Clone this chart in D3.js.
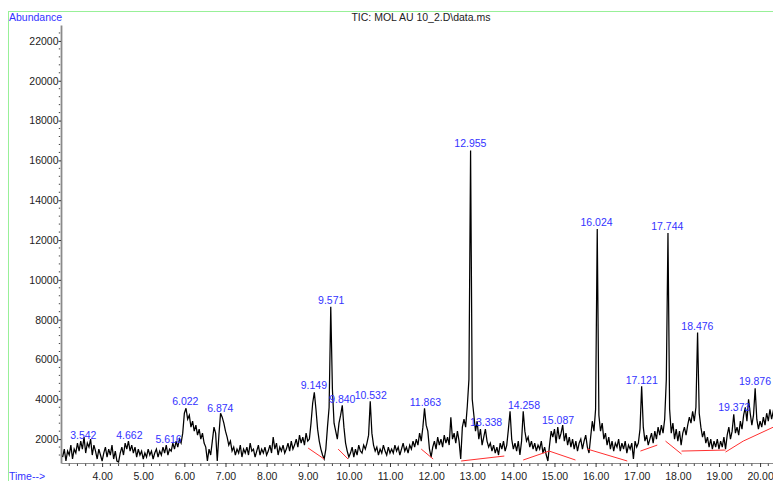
<!DOCTYPE html>
<html>
<head>
<meta charset="utf-8">
<script src="https://cdn.jsdelivr.net/npm/d3@7"></script>
<style>
  body { margin: 0; background: #fff; }
  text { font-family: "Liberation Sans", Arial, sans-serif; }
</style>
</head>
<body>
<div id="chart"></div>
<script>
// scan grid of the TIC trace (minutes)
const scanStart = 3.04, scanStep = 0.04;

// abundance per scan, one row per minute
const abundance = [
  // 3.04 - 4.00
  1100,1500,900,1400,1200,1700,1000,1500,1300,1800,1400,1900,1500,2100,1300,1800,1600,2000,1200,1700,1400,1000,1500,1200,900,
  // 4.04 - 5.00
  1300,1600,1100,1500,1200,1700,1000,1400,900,850,1300,1600,1200,1800,1500,1900,1400,1700,1300,1600,1100,1500,1200,1400,1000,
  // 5.04 - 6.00
  1300,1100,1500,1200,1400,1000,1300,1500,1100,1400,1200,1600,1300,1700,1200,1500,1400,1800,1500,1900,1600,2000,1800,2300,3300,
  // 6.04 - 7.00
  3550,3000,3200,2600,2900,2400,2700,2200,2500,2000,2300,1800,1600,900,1500,1200,1900,2600,2300,900,2200,3300,3100,2800,2400,
  // 7.04 - 8.00
  2100,1700,1900,1400,1600,1200,1500,1300,1700,1100,1500,1300,1600,1200,1800,1400,1500,1100,1400,1700,1200,1500,1300,1600,1200,
  // 8.04 - 9.00
  1400,1700,1300,2100,1500,1800,1200,1600,1400,1700,1300,1500,1800,1400,1900,1500,1700,2000,1600,2200,1800,2100,1700,2300,1900,
  // 9.04 - 10.00
  2000,2800,3800,4350,3500,2500,1900,1500,1200,1000,1500,2600,3600,8650,4500,2800,2400,2000,2800,3200,3700,2600,1800,1400,1100,
  // 10.04 - 11.00
  1300,1600,1100,1500,1200,1700,1400,1300,1700,1500,1800,2200,3900,2300,1700,1400,1600,1200,1500,1300,1700,1400,1200,1600,1300,
  // 11.04 - 12.00
  1500,1300,1700,1400,1600,1200,1500,1800,1400,1600,1300,1700,1500,1900,1600,2000,1700,2300,1900,2600,3550,2700,2400,1500,1100,
  // 12.04 - 13.00
  1600,1900,1500,2100,1700,2000,1600,2200,1800,2100,1700,3100,2000,2300,1800,2400,1900,1000,2600,3000,2600,3650,5000,16500,4000,
  // 13.04 - 14.00
  3200,2400,2900,2000,2500,1700,2100,2500,1900,1600,1800,1400,1700,1300,1600,1200,1800,1500,1900,1400,1700,2500,3400,2000,1500,
  // 14.04 - 15.00
  1800,1400,1900,1200,1900,3400,2400,1900,2100,1600,1900,1500,1800,1400,1700,1500,1900,1300,1600,1200,900,1700,2400,2100,2500,
  // 15.04 - 16.00
  1800,2600,2000,2300,2700,1900,2300,1700,2100,1600,2000,1500,1900,1400,1800,2000,1500,1900,2200,1600,1300,2100,2900,2400,3500,
  // 16.04 - 17.00
  12550,3200,2400,2800,2000,2300,1700,2100,1500,1900,1400,1800,1600,2000,1400,1800,1500,1900,1300,1700,1500,1800,1000,1900,1600,
  // 17.04 - 18.00
  1800,2500,4650,2600,1900,2200,1700,2000,2300,1800,2400,2000,2600,2200,2700,2300,3000,5000,12350,3500,2300,2800,2000,2500,1900,
  // 18.04 - 19.00
  2400,1700,2300,2600,2200,2700,3100,2800,3400,2900,3600,7350,3300,2600,2100,2400,1800,2100,1600,2000,1500,1900,1600,2000,1500,
  // 19.04 - 20.00
  1900,1600,2100,1500,2200,2600,2000,2400,3250,2300,2600,2200,2900,2500,3200,3600,2900,4000,3300,2700,3200,4550,3000,2500,2900,
  // 20.04 - 20.36
  2600,3100,2700,3300,2900,3500,3000,3400,3200
];

// integrated peaks: retention time label and apex abundance
const peakTimes = [3.542, 4.662, 5.616, 6.022, 6.874, 9.149, 9.571, 9.840, 10.532, 11.863,
                   12.955, 13.338, 14.258, 15.087, 16.024, 17.121, 17.744, 18.476, 19.373, 19.876];
const peakApex  = [1860, 1860, 1660, 3570, 3220, 4370, 8640, 3670, 3870, 3520,
                   16530, 2510, 3370, 2610, 12560, 4620, 12360, 7340, 3270, 4570];

// red integration baselines: [t1, a1, t2, a2]
const baselines = [
  [9.01, 1550, 9.40, 1000],
  [9.74, 1500, 9.98, 1000],
  [11.76, 1500, 12.05, 1000],
  [12.73, 900, 13.78, 1150],
  [14.24, 950, 14.87, 1400],
  [14.87, 1400, 15.51, 950],
  [15.80, 1500, 16.77, 900],
  [17.09, 1400, 17.50, 1700],
  [17.70, 1900, 18.09, 1250],
  [18.09, 1400, 19.16, 1450],
  [19.16, 1350, 19.59, 1900],
  [19.59, 1900, 20.32, 2600]
];

const yTicks = [2000, 4000, 6000, 8000, 10000, 12000, 14000, 16000, 18000, 20000, 22000];
const xTicks = [4, 5, 6, 7, 8, 9, 10, 11, 12, 13, 14, 15, 16, 17, 18, 19, 20];

const width = 773, height = 481;
const blue = "#3333ff", axisGrey = "#8a8a8a";

const svg = d3.select("#chart")
    .append("svg")
    .attr("width", width)
    .attr("height", height);

const x = d3.scaleLinear().domain([3, 20.37]).range([61, 775.3]);
const y = d3.scaleLinear().domain([800, 22800]).range([463, 25]);

// green frame
svg.append("line").attr("x1", 8).attr("x2", width).attr("y1", 11.5).attr("y2", 11.5)
    .attr("stroke", "#98f098").attr("stroke-width", 1);
svg.append("line").attr("x1", 8.5).attr("x2", 8.5).attr("y1", 11).attr("y2", height)
    .attr("stroke", "#98f098").attr("stroke-width", 1);

// titles
svg.append("text").attr("x", 9).attr("y", 21).attr("fill", blue)
    .style("font-size", "10.5px").text("Abundance");
svg.append("text").attr("x", 9).attr("y", 480).attr("fill", blue)
    .style("font-size", "10.5px").text("Time-->");
svg.append("text").attr("x", 421).attr("y", 21).attr("fill", "#222")
    .attr("text-anchor", "middle").style("font-size", "10.5px")
    .text("TIC: MOL AU 10_2.D\\data.ms");

// Y axis
const yAxis = svg.append("g")
    .attr("transform", `translate(${x(3)},0)`)
    .call(d3.axisLeft(y).tickValues(yTicks).tickFormat(d3.format("d"))
        .tickSize(2.5).tickPadding(0).tickSizeOuter(0));
yAxis.select(".domain").attr("stroke", axisGrey).attr("stroke-width", 1.8);
yAxis.selectAll(".tick line").attr("stroke", "#333");
yAxis.selectAll("text").style("font-size", "10.5px").attr("fill", "#222");

const yMinor = d3.range(1200, 22800, 400).filter(v => v % 2000 !== 0);
svg.append("g").selectAll("line")
    .data(yMinor)
    .enter()
    .append("line")
    .attr("x1", x(3) - 2.2).attr("x2", x(3) - 0.8)
    .attr("y1", d => y(d)).attr("y2", d => y(d))
    .attr("stroke", "#444");

// X axis
const xAxis = svg.append("g")
    .attr("transform", `translate(0,${y(800)})`)
    .call(d3.axisBottom(x).tickValues(xTicks).tickFormat(d3.format(".2f"))
        .tickSize(4).tickPadding(6).tickSizeOuter(0));
xAxis.select(".domain").attr("stroke", axisGrey).attr("stroke-width", 1);
xAxis.selectAll(".tick line").attr("stroke", "#333");
xAxis.selectAll("text").style("font-size", "10.5px").attr("fill", "#222");

const xMinor = d3.range(3.2, 20.4, 0.2).filter(v => Math.abs(v - Math.round(v)) > 0.01);
svg.append("g").selectAll("line")
    .data(xMinor)
    .enter()
    .append("line")
    .attr("x1", d => x(d)).attr("x2", d => x(d))
    .attr("y1", y(800) + 0.5).attr("y2", y(800) + 3)
    .attr("stroke", "#444");

// TIC trace
const scans = abundance.map((a, i) => ({t: scanStart + i * scanStep, a: a}));
svg.append("path")
    .datum(scans)
    .attr("fill", "none")
    .attr("stroke", "#000")
    .attr("stroke-width", 1.25)
    .attr("stroke-linejoin", "miter")
    .attr("d", d3.line().x(d => x(d.t)).y(d => y(d.a)));

// baselines
svg.append("g").selectAll("line")
    .data(baselines)
    .enter()
    .append("line")
    .attr("x1", d => x(d[0])).attr("y1", d => y(d[1]))
    .attr("x2", d => x(d[2])).attr("y2", d => y(d[3]))
    .attr("stroke", "#ff3030")
    .attr("stroke-width", 1);

// peak labels
svg.append("g").selectAll("text")
    .data(peakTimes)
    .enter()
    .append("text")
    .attr("x", d => x(d))
    .attr("y", (d, i) => y(peakApex[i]) - 3)
    .attr("text-anchor", "middle")
    .attr("fill", blue)
    .style("font-size", "10.5px")
    .text(d => d3.format(".3f")(d));
</script>
</body>
</html>
